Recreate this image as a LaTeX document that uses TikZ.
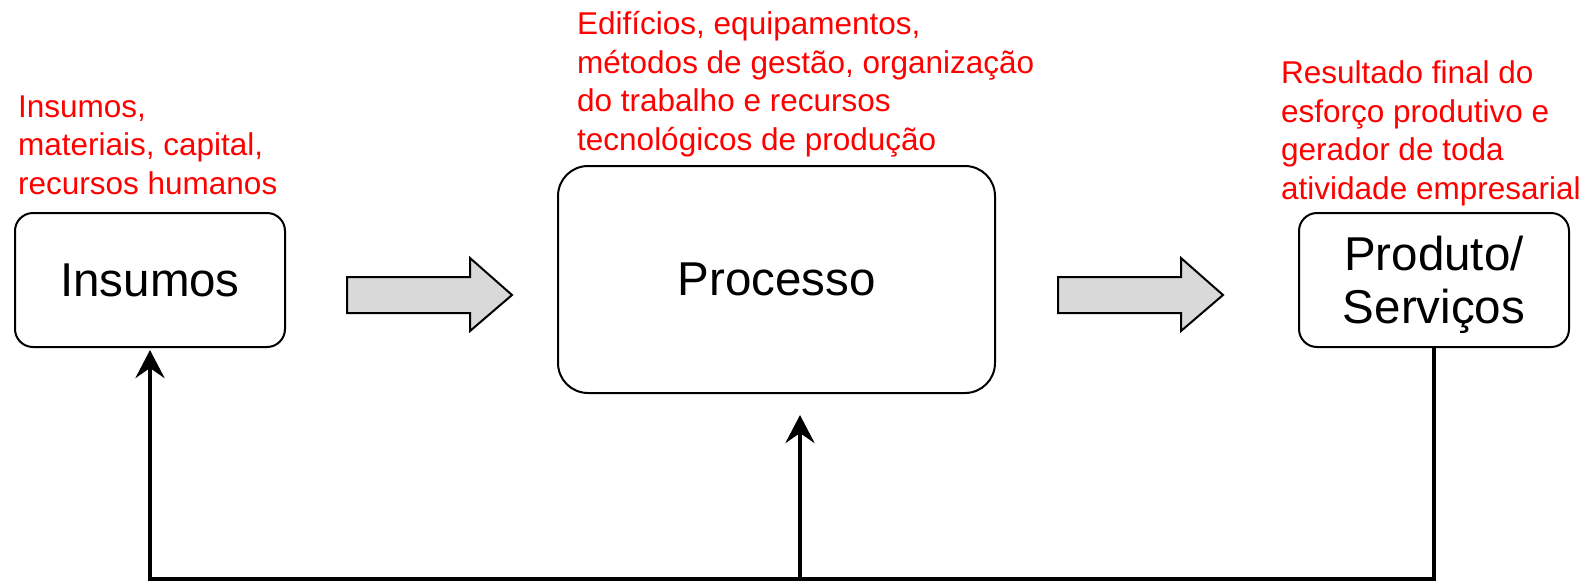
\documentclass[tikz,border=0pt]{standalone}
\usepackage{fontspec}
\setmainfont{Liberation Sans}
\usetikzlibrary{arrows.meta}
\definecolor{arrowgray}{HTML}{D9D9D9}
\begin{document}
\begin{tikzpicture}[x=1pt,y=-1pt,
  box/.style={draw=black, line width=2pt, rounded corners=18pt, minimum width=270pt, minimum height=134pt, inner sep=0pt, align=center, font=\fontsize{47.5}{53.3}\selectfont},
  note/.style={text=red, anchor=base west, inner sep=0pt, align=left, font=\fontsize{31.5}{38.6}\selectfont},
  blockarrow/.style={draw=black, fill=arrowgray, line width=2pt, line join=miter},
  fb/.style={line width=4.5pt},
  fbtip/.style={-{Stealth[length=28pt,width=29pt,inset=10pt]}}
]
\useasboundingbox (0,0) rectangle (1591,582);

\node[box] (ins) at (150,280) {Insumos};
\node[box, minimum width=437pt, minimum height=227pt, rounded corners=30pt] (proc) at (776.5,279.5) {Processo};
\node[box, text depth=0pt] (prod) at (1434,280) {Produto/\\Serviços};

% anchor = base west of the last line
\node[note] (n1) at (18,194.3) {Insumos,\\materiais, capital,\\recursos humanos};
\node[note] (n2) at (577,150.5) {Edifícios, equipamentos,\\métodos de gestão, organização\\do trabalho e recursos\\tecnológicos de produção};
\node[note] (n3) at (1281,199.5) {Resultado final do\\esforço produtivo e\\gerador de toda\\atividade empresarial};

\foreach \dx in {0,711}{
  \draw[blockarrow, xshift=\dx pt] (347,277) -- (470,277) -- (470,258) -- (512,295) -- (470,331) -- (470,313) -- (347,313) -- cycle;
}

\coordinate (bl) at (150,579);
\coordinate (bm) at (800,579);
\coordinate (pt) at (800,415);
\draw[fb, fbtip, shorten >=2pt] (prod.south) -- (prod.south |- bl) -- (bl) -- (ins.south);
\draw[fb, fbtip] (bm) -- (pt);
\end{tikzpicture}
\end{document}
